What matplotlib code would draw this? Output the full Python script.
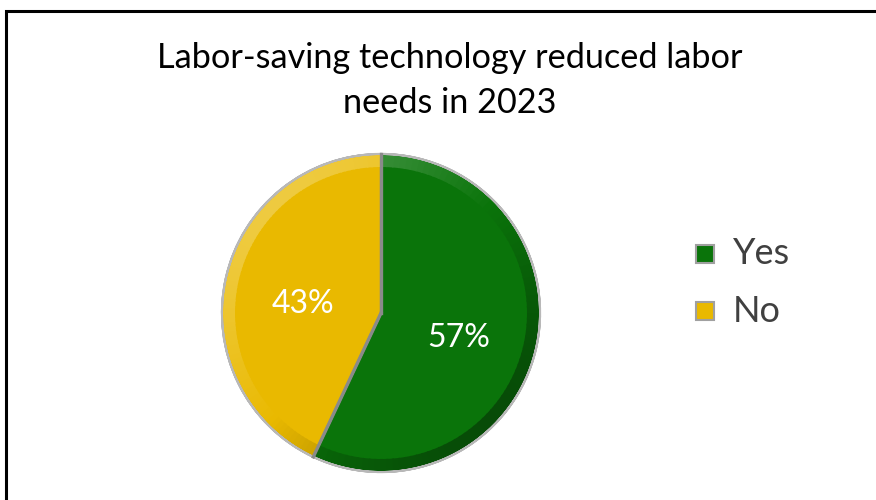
import numpy as np
import matplotlib.pyplot as plt
from matplotlib.patches import Wedge, Rectangle
from matplotlib import colors as mcolors

labels = ['Yes', 'No']
shares = [57, 43]
slice_colors = ['#0a740a', '#e9b900']

fig = plt.figure(figsize=(8.76, 5.0), dpi=100)
fig.patches.append(Rectangle((6 / 876, -0.05), 1.0, (500 - 11) / 500 + 0.05,
                             transform=fig.transFigure, fill=False,
                             edgecolor='black', linewidth=2.2))

# pie axes, in pixel units
ax = fig.add_axes([0, 0, 1, 1])
ax.set_xlim(0, 876)
ax.set_ylim(500, 0)
ax.set_aspect('equal')
ax.axis('off')

ax.text(450, 58, 'Labor-saving technology reduced labor', ha='center',
        va='center', fontsize=24.7, family='Lato', color='black')
ax.text(450, 103, 'needs in 2023', ha='center', va='center', fontsize=24.7,
        family='Lato', color='black')

cx, cy, r = 381, 313, 159
bevel = 12


def shade(color, f):
    c = np.array(mcolors.to_rgb(color))
    if f > 0:
        return tuple(c + (1 - c) * f)
    return tuple(c * (1 + f))


start = 90.0
for lab, val, col in zip(labels, shares, slice_colors):
    span = 360.0 * val / sum(shares)
    t1, t2 = start - span, start
    # y axis is flipped, so angles are mirrored
    ax.add_patch(Wedge((cx, cy), r, -t2, -t1, facecolor=col,
                       edgecolor='#8a8a8a', linewidth=1.6, zorder=2))
    # bevelled rim: lighter toward upper left, darker toward lower right
    angs = np.linspace(t1, t2, 90)
    for a0, a1 in zip(angs[:-1], angs[1:]):
        mid = np.radians((a0 + a1) / 2)
        light = np.cos(mid - np.radians(135))
        f = 0.25 * light if light > 0 else 0.35 * light
        ax.add_patch(Wedge((cx, cy), r - 1, -a1 - 0.3, -a0 + 0.3,
                           width=bevel, facecolor=shade(col, f),
                           edgecolor='none', zorder=3))
    mid = np.radians((t1 + t2) / 2)
    ax.text(cx + 0.5 * r * np.cos(mid), cy - 0.5 * r * np.sin(mid) + 8,
            f'{val}%', ha='center', va='center', color='white',
            fontsize=23, family='Lato', zorder=5)
    start = t1

# outer outline and slice borders
ax.add_patch(Wedge((cx, cy), r, 0, 360, width=0.01, facecolor='none',
                   edgecolor='#b8b8b8', linewidth=1.4, zorder=4))
for t in [90.0, 90.0 - 360.0 * shares[0] / sum(shares)]:
    ax.plot([cx, cx + r * np.cos(np.radians(t))],
            [cy, cy - r * np.sin(np.radians(t))],
            color='#8a8a8a', linewidth=2.4, zorder=4)

# legend
for i, (lab, col) in enumerate(zip(labels, slice_colors)):
    y = 254 + 57 * i
    ax.add_patch(Rectangle((696, y - 9), 18, 18, facecolor=col,
                           edgecolor='#a0a0a0', linewidth=1.5, zorder=3))
    ax.text(733, y, lab, ha='left', va='center', fontsize=26,
            family='Lato', color='#404040')

fig.savefig('out.png', dpi=100)
